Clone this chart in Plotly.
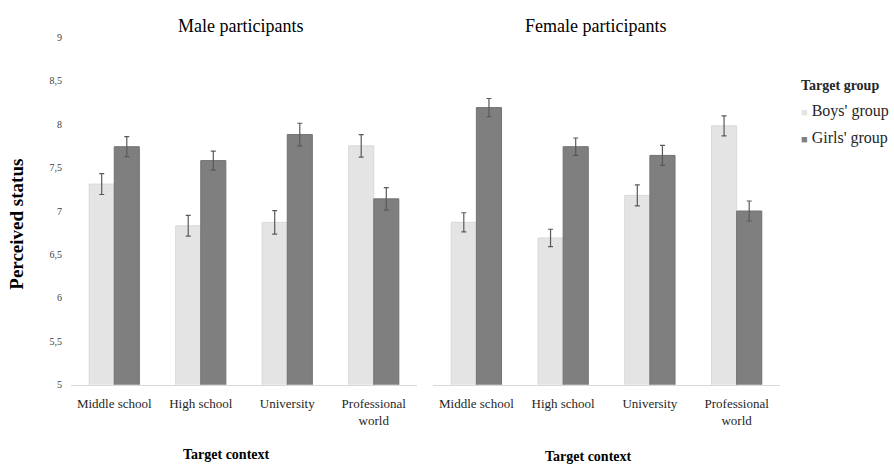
import plotly.graph_objects as go

# Target contexts on the x axis
contexts = ["Middle school", "High school", "University", "Professional<br>world"]

# Perceived status means and error margins, male participants
male_boys = [7.31, 6.83, 6.87, 7.75]
male_boys_err = [0.12, 0.12, 0.135, 0.13]
male_girls = [7.74, 7.58, 7.88, 7.14]
male_girls_err = [0.115, 0.11, 0.13, 0.13]

# Perceived status means and error margins, female participants
female_boys = [6.87, 6.69, 7.18, 7.98]
female_boys_err = [0.11, 0.10, 0.12, 0.115]
female_girls = [8.19, 7.74, 7.64, 7.00]
female_girls_err = [0.105, 0.10, 0.115, 0.115]

# Y axis ticks (decimal comma)
y_ticks = [5, 5.5, 6, 6.5, 7, 7.5, 8, 8.5, 9]
y_tick_labels = ["5", "5,5", "6", "6,5", "7", "7,5", "8", "8,5", "9"]

series_names = ["Boys' group", "Girls' group"]
W, H = 894, 466
FONT = "Times New Roman, Liberation Serif, serif"
BOYS_COLOR = "#e4e4e4"
GIRLS_COLOR = "#7f7f7f"
ERR_COLOR = "#595959"


def px_x(p):
    return p / W


def px_y(p):
    return 1 - p / H


def bar(values, errors, color, line_color, name, xa, ya):
    return go.Bar(
        x=contexts, y=values, name=name, xaxis=xa, yaxis=ya,
        marker=dict(color=color, line=dict(color=line_color, width=1)),
        error_y=dict(type="data", array=errors, visible=True,
                     color=ERR_COLOR, thickness=1.2, width=2.5),
        showlegend=False,
    )


fig = go.Figure()
fig.add_trace(bar(male_boys, male_boys_err, BOYS_COLOR, "#d8d8d8", series_names[0], "x", "y"))
fig.add_trace(bar(male_girls, male_girls_err, GIRLS_COLOR, "#727272", series_names[1], "x", "y"))
fig.add_trace(bar(female_boys, female_boys_err, BOYS_COLOR, "#d8d8d8", series_names[0], "x2", "y2"))
fig.add_trace(bar(female_girls, female_girls_err, GIRLS_COLOR, "#727272", series_names[1], "x2", "y2"))

xaxis_common = dict(
    showgrid=False, zeroline=False, showline=True, linecolor="#d9d9d9",
    linewidth=1, ticks="", ticklabelstandoff=7,
    tickfont=dict(family=FONT, size=13, color="#262626"),
    fixedrange=True,
)
yaxis_common = dict(
    range=[5, 9], showgrid=False, zeroline=False, showline=False, ticks="",
    tickvals=y_ticks, ticktext=y_tick_labels, fixedrange=True,
    domain=[px_y(389), px_y(33)],
)

annotations = [
    dict(text="Male participants", x=px_x(240), y=px_y(21), xref="paper", yref="paper",
         showarrow=False, font=dict(family=FONT, size=18, color="#000000"),
         xanchor="center", yanchor="middle"),
    dict(text="Female participants", x=px_x(595), y=px_y(21), xref="paper", yref="paper",
         showarrow=False, font=dict(family=FONT, size=18, color="#000000"),
         xanchor="center", yanchor="middle"),
    dict(text="<b>Target context</b>", x=px_x(226), y=px_y(460), xref="paper", yref="paper",
         showarrow=False, font=dict(family=FONT, size=14, color="#000000"),
         xanchor="center", yanchor="middle"),
    dict(text="<b>Target context</b>", x=px_x(588), y=px_y(462), xref="paper", yref="paper",
         showarrow=False, font=dict(family=FONT, size=14, color="#000000"),
         xanchor="center", yanchor="middle"),
    dict(text="<b>Perceived status</b>", x=px_x(17), y=px_y(225), xref="paper", yref="paper",
         showarrow=False, textangle=-90, font=dict(family=FONT, size=19, color="#000000"),
         xanchor="center", yanchor="middle"),
    # Legend block
    dict(text="<b>Target group</b>", x=px_x(799), y=px_y(82), xref="paper", yref="paper",
         showarrow=False, font=dict(family=FONT, size=14, color="#262626"),
         xanchor="left", yanchor="middle"),
    dict(text=f'<span style="color:{BOYS_COLOR};font-size:11px">■</span> {series_names[0]}',
         x=px_x(799), y=px_y(109), xref="paper", yref="paper",
         showarrow=False, font=dict(family=FONT, size=16, color="#262626"),
         xanchor="left", yanchor="middle"),
    dict(text=f'<span style="color:{GIRLS_COLOR};font-size:11px">■</span> {series_names[1]}',
         x=px_x(799), y=px_y(136), xref="paper", yref="paper",
         showarrow=False, font=dict(family=FONT, size=16, color="#262626"),
         xanchor="left", yanchor="middle"),
]

fig.update_layout(
    width=W, height=H,
    margin=dict(l=0, r=0, t=0, b=0),
    paper_bgcolor="#ffffff", plot_bgcolor="#ffffff",
    barmode="group", bargap=0.42, bargroupgap=0,
    showlegend=False,
    font=dict(family=FONT, color="#262626"),
    xaxis=dict(domain=[px_x(71), px_x(417)], anchor="y", **xaxis_common),
    xaxis2=dict(domain=[px_x(433), px_x(780)], anchor="y2", **xaxis_common),
    yaxis=dict(anchor="x", showticklabels=True, ticklabelstandoff=8,
               tickfont=dict(family=FONT, size=10, color="#404040"), **yaxis_common),
    yaxis2=dict(anchor="x2", matches="y", showticklabels=False, **yaxis_common),
    annotations=annotations,
)

fig.write_html("out.html")
